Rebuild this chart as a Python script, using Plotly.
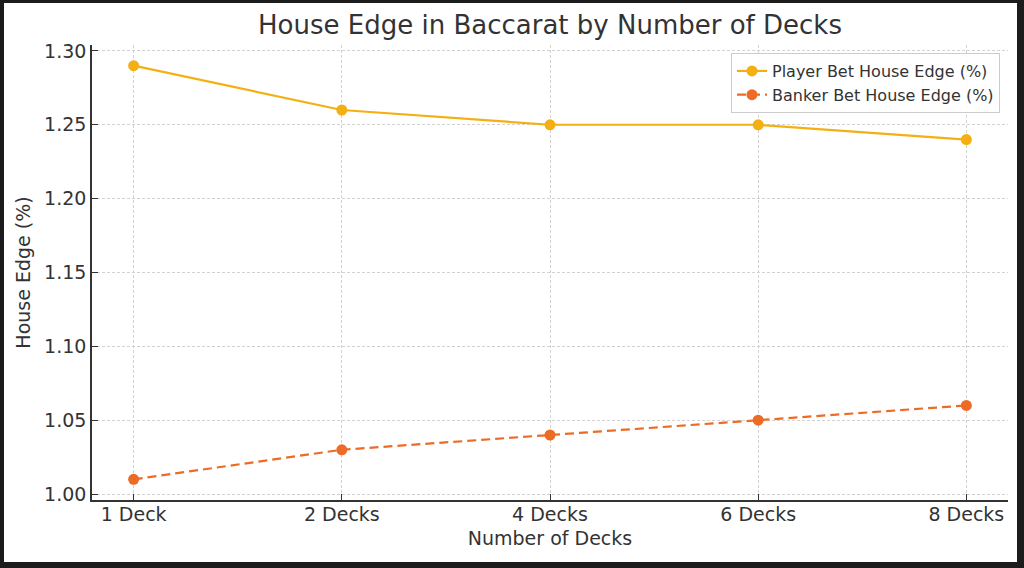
import plotly.graph_objects as go

categories = ["1 Deck", "2 Decks", "4 Decks", "6 Decks", "8 Decks"]
player_edge = [1.29, 1.26, 1.25, 1.25, 1.24]
banker_edge = [1.01, 1.03, 1.04, 1.05, 1.06]
y_ticks = [1.00, 1.05, 1.10, 1.15, 1.20, 1.25, 1.30]

PLAYER = "#F4B012"
BANKER = "#EC6B26"
TXT = "#333333"
FONT = "DejaVu Sans"

fig = go.Figure()
fig.add_trace(go.Scatter(
    x=categories, y=player_edge, mode="lines+markers",
    name="Player Bet House Edge (%)",
    line=dict(color=PLAYER, width=2.2),
    marker=dict(color=PLAYER, size=11),
))
fig.add_trace(go.Scatter(
    x=categories, y=banker_edge, mode="lines+markers",
    name="Banker Bet House Edge (%)",
    line=dict(color=BANKER, width=2.2, dash="9px,5px"),
    marker=dict(color=BANKER, size=11),
))

L, R, T, B = 92, 16, 45, 68
W, H = 1024, 568
pw, ph = W - L - R, H - T - B

def px_x(p):
    return (p - L) / pw

def px_y(p):
    return (H - B - p) / ph

fig.add_shape(type="rect", xref="paper", yref="paper",
              x0=px_x(4), x1=px_x(1017), y0=px_y(562), y1=px_y(3),
              fillcolor="white", line=dict(width=0), layer="below")

fig.update_layout(
    width=W, height=H,
    margin=dict(l=L, r=R, t=T, b=B, pad=0),
    paper_bgcolor="#1c1c1c",
    plot_bgcolor="white",
    font=dict(family=FONT, color=TXT, size=19),
    title=dict(text="House Edge in Baccarat by Number of Decks",
               x=0.5, xref="paper", xanchor="center",
               y=1 - 25 / H, yref="container", yanchor="middle",
               font=dict(size=26, color=TXT, family=FONT)),
    legend=dict(x=px_x(1000), xanchor="right", y=px_y(53), yanchor="top",
                bgcolor="rgba(255,255,255,0.85)", bordercolor="#cccccc",
                borderwidth=1, font=dict(size=16, color=TXT, family=FONT),
                tracegroupgap=2),
    showlegend=True,
)

fig.update_xaxes(
    range=[-0.2, 4.2], type="category",
    showline=True, linecolor="#333333", linewidth=1.6,
    ticks="inside", ticklen=6, tickwidth=1.2, tickcolor="#333333",
    ticklabelstandoff=-4,
    showgrid=True, gridcolor="#d2d2d2", gridwidth=1, griddash="3px,2px",
    zeroline=False, mirror=False,
    tickfont=dict(size=19, color=TXT),
    title=dict(text="Number of Decks", font=dict(size=19, color=TXT), standoff=8),
)
fig.update_yaxes(
    range=[0.996, 1.304], tickvals=y_ticks,
    ticktext=[f"{v:.2f}" for v in y_ticks],
    showline=True, linecolor="#333333", linewidth=1.6,
    ticks="inside", ticklen=6, tickwidth=1.2, tickcolor="#333333",
    showgrid=True, gridcolor="#d2d2d2", gridwidth=1, griddash="3px,2px",
    zeroline=False, mirror=False,
    tickfont=dict(size=19, color=TXT),
    title=dict(text="House Edge (%)", font=dict(size=19, color=TXT), standoff=8),
)

fig.write_html("out.html")
